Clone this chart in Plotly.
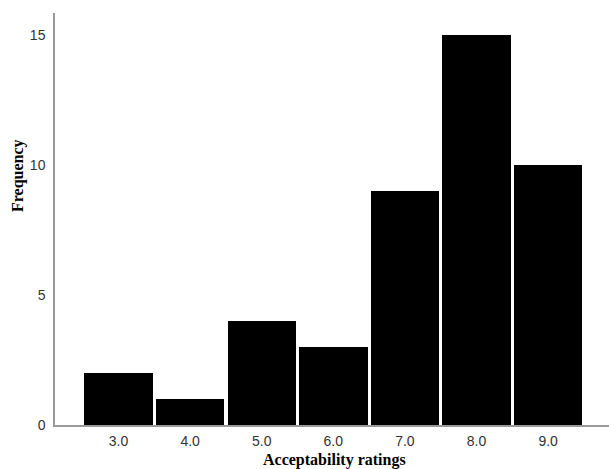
import plotly.graph_objects as go

ratings = [3.0, 4.0, 5.0, 6.0, 7.0, 8.0, 9.0]
frequency = [2, 1, 4, 3, 9, 15, 10]
tick_vals = [3.0, 4.0, 5.0, 6.0, 7.0, 8.0, 9.0]
tick_text = ["3.0", "4.0", "5.0", "6.0", "7.0", "8.0", "9.0"]
y_ticks = [0, 5, 10, 15]

title_font = dict(family="Liberation Serif, Times New Roman", size=16, color="black")

W, H = 609, 469
L, R, T, B = 55, 0, 13, 44
pw, ph = W - L - R, H - T - B


def px_to_paper(x, y):
    return (x - L) / pw, (H - B - y) / ph


ax, ay = px_to_paper(334, 460)
fx, fy = px_to_paper(18, 176)

fig = go.Figure()
fig.add_trace(go.Bar(
    x=ratings, y=frequency, width=0.955,
    marker=dict(color="black", line=dict(width=0)),
    hoverinfo="skip",
))
fig.update_layout(
    width=W, height=H,
    margin=dict(l=L, r=R, t=T, b=B, autoexpand=False),
    plot_bgcolor="white", paper_bgcolor="white",
    showlegend=False, bargap=0,
    font=dict(family="Liberation Sans Narrow, Liberation Sans, Arial", size=14, color="#333"),
    annotations=[
        dict(text="<b>Acceptability ratings</b>", x=ax, y=ay, xref="paper", yref="paper",
             xanchor="center", yanchor="middle", showarrow=False, font=title_font),
        dict(text="<b>Frequency</b>", x=fx, y=fy, xref="paper", yref="paper",
             xanchor="center", yanchor="middle", showarrow=False, textangle=-90, font=title_font),
    ],
)
fig.update_xaxes(
    range=[2.113, 9.85], tickvals=tick_vals, ticktext=tick_text, automargin=False,
    showgrid=False, zeroline=False, showline=True, linecolor="#999", linewidth=1.5,
    ticks="", ticklabelstandoff=2,
)
fig.update_yaxes(
    range=[0, 15.85], tickvals=y_ticks, automargin=False,
    showgrid=False, zeroline=False, showline=True, linecolor="#999", linewidth=1.5,
    ticks="", ticklabelstandoff=5,
)
fig.write_html(
    "out.html",
    config={"displayModeBar": False},
    post_script="document.body.style.margin='0';document.body.style.overflow='hidden';",
)
